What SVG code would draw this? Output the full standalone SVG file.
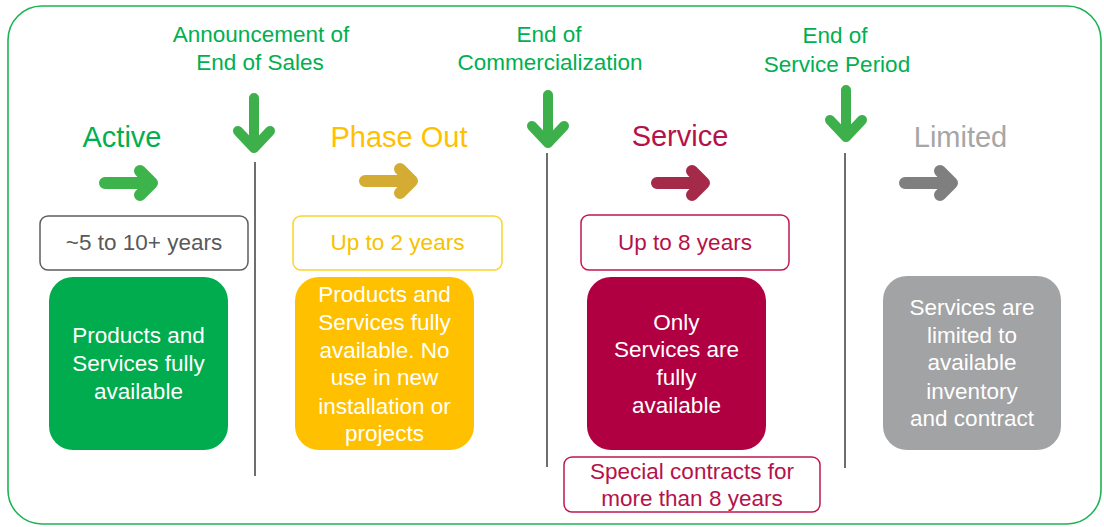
<svg xmlns="http://www.w3.org/2000/svg" width="1104" height="527" viewBox="0 0 1104 527">
<style>
text { font-family: "Liberation Sans", Arial, sans-serif; text-anchor: middle; }
.ms { font-size: 22.5px; fill: #00b050; }
.hd { font-size: 29px; }
.dur { font-size: 22.5px; }
.body { font-size: 22.5px; fill: #ffffff; }
.durbox { fill: #ffffff; stroke-width: 1.5; }
.card { stroke: none; }
.vline { stroke: #6e6e6e; stroke-width: 2; fill: none; }
.arr { fill: none; stroke-width: 12; stroke-linecap: round; stroke-linejoin: round; }
.darr { fill: none; stroke: #3eb04b; stroke-width: 10; stroke-linecap: round; stroke-linejoin: round; }
</style>
<defs>
<path id="rarrow" d="M6,0 H50 M41,-12 L53,0 L41,12"/>
</defs>
<rect x="8" y="6" width="1093" height="518" rx="34" fill="#ffffff" stroke="#1db254" stroke-width="1.6"/>

<g id="connectors">
<line class="vline" x1="255" y1="162" x2="255" y2="476"/>
<line class="vline" x1="547" y1="153" x2="547" y2="467"/>
<line class="vline" x1="845" y1="153" x2="845" y2="468"/>
<path class="darr" d="M254,98 V148 M238,131 L254,148 L270,131"/>
<path class="darr" d="M548,95 V143 M532,126 L548,143 L564,126"/>
<path class="darr" d="M846,90 V137 M830,120 L846,137 L862,120"/>
<use href="#rarrow" class="arr" stroke="#3cb44b" transform="translate(99,183)"/>
<use href="#rarrow" class="arr" stroke="#d4ac33" transform="translate(359,181)"/>
<use href="#rarrow" class="arr" stroke="#a52a4a" transform="translate(651,183)"/>
<use href="#rarrow" class="arr" stroke="#7f7f7f" transform="translate(899,183)"/>
</g>

<g id="milestone-eos">
<text class="ms" x="261" y="42">Announcement of</text>
<text class="ms" x="260" y="70">End of Sales</text>
</g>
<g id="milestone-eoc">
<text class="ms" x="549" y="42">End of</text>
<text class="ms" x="550" y="70">Commercialization</text>
</g>
<g id="milestone-esp">
<text class="ms" x="835" y="43">End of</text>
<text class="ms" x="837" y="72">Service Period</text>
</g>

<g id="phase-active">
<text class="hd" x="122" y="147" fill="#00b050">Active</text>
<rect class="durbox" x="40" y="216" width="208" height="54" rx="8" stroke="#5e5e5e"/>
<text class="dur" x="144" y="250" fill="#595959">~5 to 10+ years</text>
<rect class="card" x="49" y="277" width="179" height="173" rx="24" fill="#00ac4e"/>
<text class="body" x="138.5" y="343">Products and</text>
<text class="body" x="138.5" y="371">Services fully</text>
<text class="body" x="138.5" y="399">available</text>
</g>

<g id="phase-phaseout">
<text class="hd" x="399" y="147" fill="#ffc000">Phase Out</text>
<rect class="durbox" x="293" y="216" width="209" height="54" rx="8" stroke="#fcd42a"/>
<text class="dur" x="397.5" y="250" fill="#f7c200">Up to 2 years</text>
<rect class="card" x="295" y="277" width="179" height="173" rx="24" fill="#ffc000"/>
<text class="body" x="384.5" y="302">Products and</text>
<text class="body" x="384.5" y="330">Services fully</text>
<text class="body" x="384.5" y="358">available. No</text>
<text class="body" x="384.5" y="385">use in new</text>
<text class="body" x="384.5" y="414">installation or</text>
<text class="body" x="384.5" y="441">projects</text>
</g>

<g id="phase-service">
<text class="hd" x="680" y="146" fill="#b5124a">Service</text>
<rect class="durbox" x="581" y="215" width="208" height="55" rx="8" stroke="#c0184f"/>
<text class="dur" x="685" y="250" fill="#b5124a">Up to 8 years</text>
<rect class="card" x="587" y="277" width="179" height="173" rx="24" fill="#b10042"/>
<text class="body" x="676.5" y="330">Only</text>
<text class="body" x="676.5" y="357">Services are</text>
<text class="body" x="676.5" y="385">fully</text>
<text class="body" x="676.5" y="413">available</text>
<rect class="durbox" x="564" y="457" width="256" height="55" rx="8" stroke="#c0184f"/>
<text class="dur" x="692" y="479" fill="#b5124a">Special contracts for</text>
<text class="dur" x="692" y="506" fill="#b5124a">more than 8 years</text>
</g>

<g id="phase-limited">
<text class="hd" x="960.5" y="147" fill="#a6a6a6">Limited</text>
<rect class="card" x="883" y="276" width="178" height="174" rx="24" fill="#a2a3a5"/>
<text class="body" x="972" y="315">Services are</text>
<text class="body" x="972" y="343">limited to</text>
<text class="body" x="972" y="370">available</text>
<text class="body" x="972" y="399">inventory</text>
<text class="body" x="972" y="426">and contract</text>
</g>
</svg>
